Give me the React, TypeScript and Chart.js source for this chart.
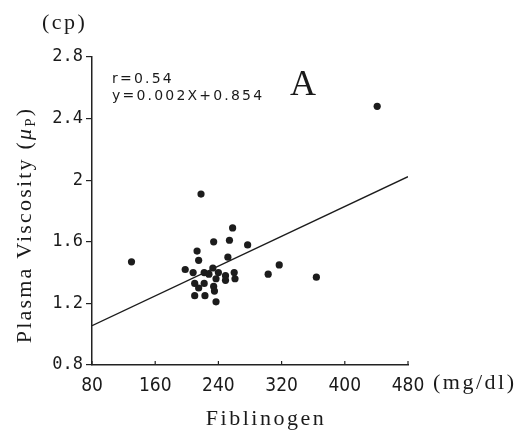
import React, { useEffect, useRef } from "react";
import { Chart, registerables } from "chart.js";

Chart.register(...registerables);

const fibrinogen = [130, 218, 258, 234, 254, 277, 213, 215, 252, 198, 208, 222, 228, 233, 240, 249, 249, 260, 261, 237, 210, 222, 215, 234, 235, 210, 223, 237, 303, 317, 441, 364];
const viscosity = [1.47, 1.91, 1.69, 1.60, 1.61, 1.58, 1.54, 1.48, 1.50, 1.42, 1.40, 1.40, 1.39, 1.43, 1.40, 1.38, 1.35, 1.40, 1.36, 1.36, 1.33, 1.33, 1.30, 1.31, 1.28, 1.25, 1.25, 1.21, 1.39, 1.45, 2.48, 1.37];
const lineX = [80, 480];
const lineY = [1.055, 2.023];
const xTicks = [80, 160, 240, 320, 400, 480];
const xTickLabels = ["80", "160", "240", "320", "400", "480"];
const yTicks = [0.8, 1.2, 1.6, 2.0, 2.4, 2.8];
const yTickLabels = ["0.8", "1.2", "1.6", "2", "2.4", "2.8"];

const SERIF = "'Liberation Serif', 'DejaVu Serif', serif";

const textPlugin = {
  id: "textPlugin",
  afterDraw(chart: any) {
    const ctx = chart.ctx as CanvasRenderingContext2D;
    const xs = chart.scales.x;
    const area = chart.chartArea;
    ctx.save();
    // inward x ticks
    ctx.strokeStyle = "#222";
    ctx.lineWidth = 1.2;
    xTicks.forEach((v) => {
      const px = xs.getPixelForValue(v);
      ctx.beginPath();
      ctx.moveTo(px, area.bottom);
      ctx.lineTo(px, area.bottom - 4);
      ctx.stroke();
    });
    ctx.fillStyle = "#1a1a1a";
    const c: any = ctx;
    ctx.font = `22px ${SERIF}`;
    c.letterSpacing = "2.5px";
    ctx.textAlign = "left";
    ctx.textBaseline = "alphabetic";
    ctx.fillText("(cp)", 42, 29);
    ctx.fillText("(mg/dl)", 433, 389);
    ctx.textAlign = "center";
    ctx.fillText("Fiblinogen", 266, 425);
    c.letterSpacing = "0px";
    ctx.font = `36px ${SERIF}`;
    ctx.fillText("A", 303, 95);
    ctx.textAlign = "left";
    ctx.font = "14px 'DejaVu Sans', sans-serif";
    c.letterSpacing = "2.2px";
    ctx.fillText("r=0.54", 112, 83);
    ctx.fillText("y=0.002X+0.854", 112, 100);
    // y title rotated
    ctx.translate(31, 225);
    ctx.rotate(-Math.PI / 2);
    c.letterSpacing = "2.2px";
    const main = "Plasma Viscosity (";
    ctx.font = `22px ${SERIF}`;
    const w1 = ctx.measureText(main).width;
    ctx.font = `italic 22px ${SERIF}`;
    const wm = ctx.measureText("μ").width;
    ctx.font = `15px ${SERIF}`;
    const wp = ctx.measureText("P").width;
    ctx.font = `22px ${SERIF}`;
    const wc = ctx.measureText(")").width;
    const total = w1 + wm + wp + wc;
    let x0 = -total / 2;
    ctx.fillText(main, x0, 0);
    x0 += w1;
    ctx.font = `italic 22px ${SERIF}`;
    ctx.fillText("μ", x0, 0);
    x0 += wm;
    ctx.font = `15px ${SERIF}`;
    ctx.fillText("P", x0, 4);
    x0 += wp;
    ctx.font = `22px ${SERIF}`;
    ctx.fillText(")", x0, 0);
    ctx.restore();
  },
};

export default function App() {
  const ref = useRef<HTMLCanvasElement>(null);
  useEffect(() => {
    if (!ref.current) return;
    const chart = new Chart(ref.current, {
      type: "scatter",
      data: {
        datasets: [
          {
            type: "scatter",
            data: fibrinogen.map((x, i) => ({ x, y: viscosity[i] })),
            backgroundColor: "#1c1c1c",
            borderColor: "#1c1c1c",
            pointRadius: 3.6,
            borderWidth: 0,
          },
          {
            type: "line",
            data: lineX.map((x, i) => ({ x, y: lineY[i] })),
            borderColor: "#1c1c1c",
            borderWidth: 1.4,
            pointRadius: 0,
            fill: false,
          } as any,
        ],
      },
      options: {
        responsive: false,
        animation: false,
        events: [],
        layout: { padding: { top: 57, right: 110, left: 0, bottom: 0 } },
        plugins: { legend: { display: false }, tooltip: { enabled: false } },
        scales: {
          x: {
            type: "linear",
            min: 80,
            max: 480,
            afterFit: (s: any) => {
              s.height = 77;
            },
            afterBuildTicks: (s: any) => {
              s.ticks = xTicks.map((v) => ({ value: v }));
            },
            border: { display: true, color: "#222", width: 1.5 },
            grid: { display: true, drawOnChartArea: false, drawTicks: false },
            ticks: {
              padding: 10,
              color: "#1a1a1a",
              font: { family: "'Liberation Sans Narrow', 'DejaVu Sans Condensed', sans-serif", size: 19 },
              callback: (v: any) => xTickLabels[xTicks.indexOf(Number(v))] ?? "",
              maxRotation: 0,
              autoSkip: false,
            },
          },
          y: {
            type: "linear",
            min: 0.8,
            max: 2.8,
            afterFit: (s: any) => {
              s.width = 92;
            },
            afterBuildTicks: (s: any) => {
              s.ticks = yTicks.map((v) => ({ value: v }));
            },
            border: { display: true, color: "#222", width: 1.5 },
            grid: { display: true, drawOnChartArea: false, drawTicks: true, tickLength: 6, color: "#222", lineWidth: 1.2 },
            ticks: {
              padding: 3,
              color: "#1a1a1a",
              font: { family: "'DejaVu Sans Mono', monospace", size: 17 },
              callback: (v: any) => {
                const i = yTicks.findIndex((t) => Math.abs(t - Number(v)) < 1e-6);
                return i >= 0 ? yTickLabels[i] : "";
              },
              autoSkip: false,
            },
          },
        },
      },
      plugins: [textPlugin],
    });
    return () => chart.destroy();
  }, []);
  return (
    <div style={{ position: "fixed", left: 0, top: 0, width: 518, height: 442, background: "#fff" }}>
      <canvas ref={ref} width={518} height={442} />
    </div>
  );
}
